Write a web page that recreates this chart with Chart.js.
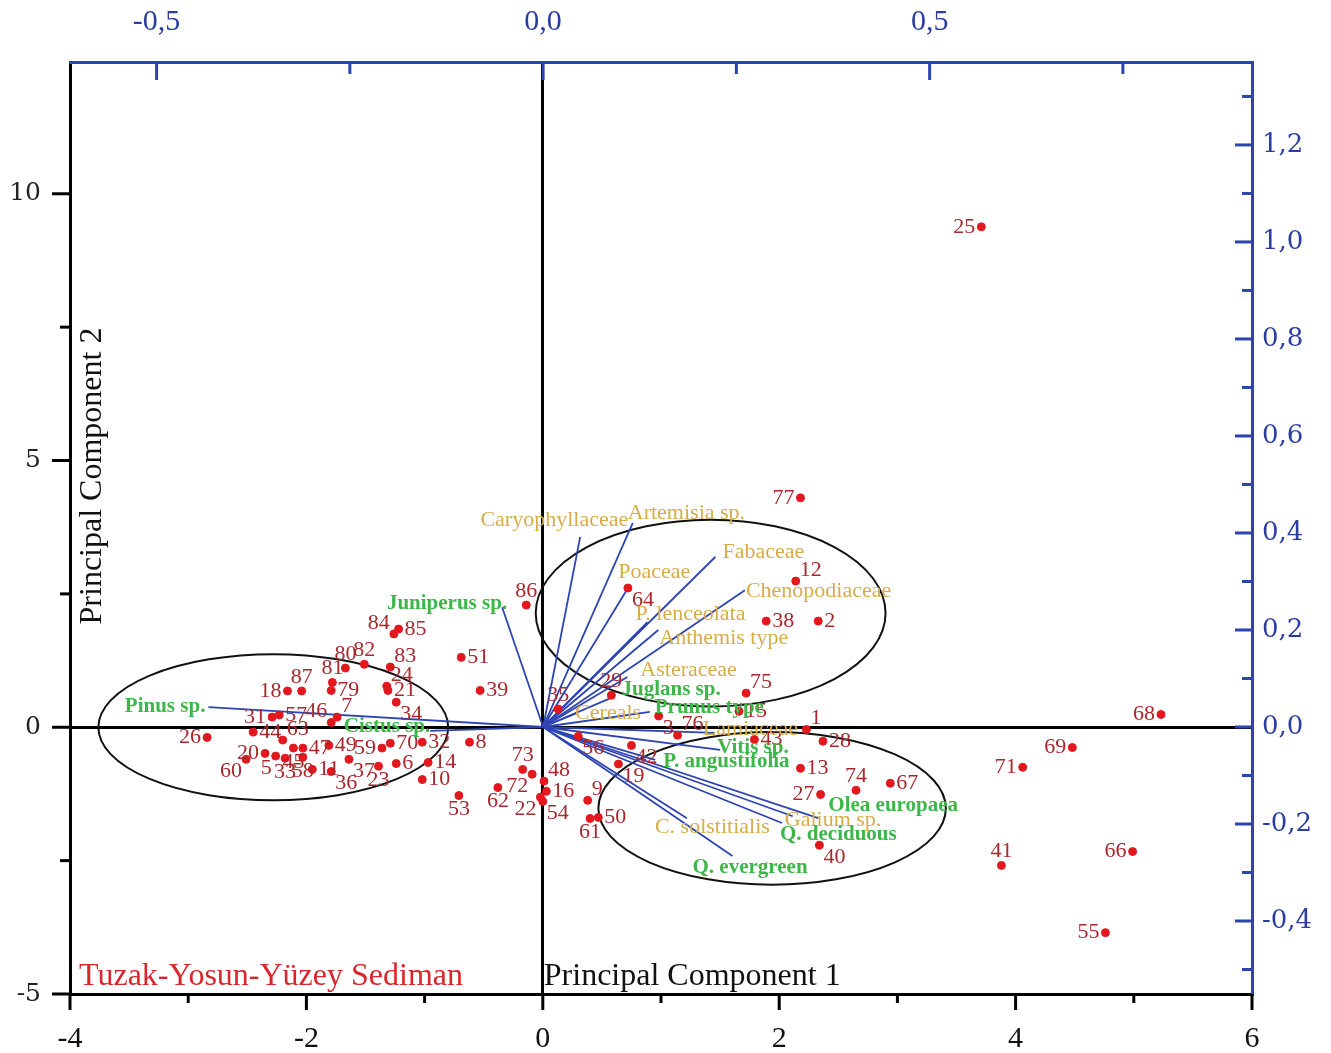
<!DOCTYPE html>
<html lang="tr">
<head>
<meta charset="UTF-8">
<title>PCA - Tuzak-Yosun-Yüzey Sediman</title>
<script src="https://cdn.jsdelivr.net/npm/chart.js@4.4.1/dist/chart.umd.min.js"></script>
<style>
  html, body { margin: 0; padding: 0; background: #fff; }
  #wrap { width: 1331px; height: 1053px; }
</style>
</head>
<body>
<div id="wrap"><canvas id="pca" width="1331" height="1053"></canvas></div>
<script>
// sample scores
const sampleIds = [1, 2, 3, 5, 6, 7, 8, 9, 10, 11, 12, 13, 14, 15, 16, 18, 19, 20, 21, 22,
  23, 24, 25, 26, 27, 28, 29, 31, 32, 33, 34, 35, 36, 37, 38, 39, 40, 41, 42, 43,
  44, 45, 46, 47, 48, 49, 50, 51, 53, 54, 55, 56, 57, 58, 59, 60, 61, 62, 63, 64,
  66, 67, 68, 69, 70, 71, 72, 73, 74, 75, 76, 77, 79, 80, 81, 82, 83, 84, 85, 86, 87];
const pc1 = [2.23, 2.33, 0.98, -2.26, -1.24, -1.74, -0.62, 0.38, -1.02, -1.95, 2.14, 2.18, -0.97, 1.66, 0.03, -2.16, 0.64, -2.35, -1.31, -0.02,
  -1.39, -1.32, 3.71, -2.84, 2.35, 2.37, 0.58, -2.29, -1.02, -2.18, -1.24, 0.13, -1.79, -1.64, 1.89, -0.53, 2.34, 3.88, 0.75, 1.79,
  -2.45, -2.11, -1.79, -2.03, 0.01, -1.81, 0.47, -0.69, -0.71, 0.00, 4.76, 0.30, -2.23, -2.03, -1.36, -2.51, 0.40, -0.38, -2.20, 0.72,
  4.99, 2.94, 5.23, 4.48, -1.29, 4.06, -0.09, -0.17, 2.65, 1.72, 1.14, 2.18, -1.79, -1.67, -1.78, -1.51, -1.29, -1.26, -1.22, -0.14, -2.04];
const pc2 = [-0.04, 1.99, 0.21, -0.54, -0.68, 0.19, -0.28, -1.37, -0.98, -0.79, 2.74, -0.77, -0.66, 0.30, -1.20, 0.68, -0.69, -0.49, 0.69, -1.31,
  -0.73, 0.77, 9.38, -0.19, -1.26, -0.26, 0.60, 0.19, -0.28, -0.58, 0.47, 0.34, -0.83, -0.60, 1.99, 0.69, -2.21, -2.59, -0.34, -0.23,
  -0.09, -0.39, 0.09, -0.39, -1.01, -0.34, -1.69, 1.31, -1.28, -1.39, -3.85, -0.17, 0.23, -0.56, -0.39, -0.60, -1.71, -1.13, -0.24, 2.61,
  -2.33, -1.05, 0.24, -0.38, -0.30, -0.75, -0.88, -0.79, -1.18, 0.64, -0.15, 4.30, 0.69, 1.11, 0.84, 1.18, 1.13, 1.75, 1.84, 2.29, 0.68];

// taxa loadings (top and right axes)
const taxa = ['Caryophyllaceae', 'Artemisia sp.', 'Poaceae', 'Fabaceae', 'Chenopodiaceae', 'P. lenceolata',
  'Anthemis type', 'Asteraceae', 'Cereals', 'Lamiaceae', 'C. solstitialis', 'Galium sp.',
  'Juglans sp.', 'Prunus type', 'Vitis sp.', 'P. angustifolia', 'Olea europaea', 'Q. deciduous',
  'Q. evergreen', 'Juniperus sp.', 'Pinus sp.', 'Cistus sp.'];
const loadX = [0.048, 0.116, 0.110, 0.223, 0.261, 0.135, 0.149, 0.109, 0.044, 0.222, 0.186, 0.323,
  0.091, 0.138, 0.229, 0.145, 0.356, 0.309, 0.245, -0.053, -0.433, -0.146];
const loadY = [0.392, 0.421, 0.287, 0.351, 0.282, 0.216, 0.200, 0.103, 0.029, -0.012, -0.188, -0.184,
  0.062, 0.031, -0.047, -0.068, -0.188, -0.198, -0.266, 0.247, 0.041, -0.008];
const taxaGroup = ['herb', 'herb', 'herb', 'herb', 'herb', 'herb', 'herb', 'herb', 'herb', 'herb', 'herb', 'herb',
  'tree', 'tree', 'tree', 'tree', 'tree', 'tree', 'tree', 'tree', 'tree', 'tree'];

// sample groups (ellipses), in score units
const groupCx = [-2.28, 1.42, 1.94];
const groupCy = [0.00, 2.14, -1.52];
const groupRx = [1.48, 1.48, 1.47];
const groupRy = [1.37, 1.75, 1.43];

// tick labels
const xLabels = [-4, -2, 0, 2, 4, 6];
const yLabels = [-5, 0, 5, 10];
const x2Labels = [-0.5, 0, 0.5];
const y2Labels = [-0.4, -0.2, 0, 0.2, 0.4, 0.6, 0.8, 1.0, 1.2];

const BLUE = '#2a44b0';
const has = (arr, v) => arr.some(a => Math.abs(a - v) < 1e-6);
const comma = v => (Math.round(v * 10) / 10).toFixed(1).replace('.', ',');

// where the number sits around its dot (default right)
const numAnchor = {1:'tr',3:'br',5:'bl',7:'tr',9:'tr',12:'tr',18:'l',19:'br',20:'l',22:'bl',23:'b',24:'tr',
  25:'l',26:'l',27:'l',29:'t',31:'l',33:'b',34:'br',35:'t',36:'br',37:'br',40:'br',41:'t',42:'br',45:'b',
  46:'tl',48:'tr',53:'b',54:'br',55:'l',56:'br',58:'b',59:'l',60:'bl',61:'b',62:'b',63:'tr',64:'br',66:'l',
  68:'l',69:'l',71:'l',72:'bl',73:'t',74:'t',75:'tr',76:'tr',77:'l',80:'t',81:'t',82:'t',83:'tr',84:'tl',
  86:'t',87:'t'};
const anchorOff = {
  r: [6, 0, 'left'], l: [-6, 0, 'right'], t: [0, -14, 'center'], b: [0, 14, 'center'],
  tr: [4, -11, 'left'], tl: [-4, -11, 'right'], br: [4, 12, 'left'], bl: [-4, 12, 'right']
};
// taxon text placement relative to the arrow tip
const taxaLabelPos = {
  'Caryophyllaceae': [48, -17, 'right'], 'Artemisia sp.': [-5, -10, 'left'], 'Poaceae': [-10, -16, 'left'],
  'Fabaceae': [7, -5, 'left'], 'Chenopodiaceae': [1, 1, 'left'], 'P. lenceolata': [-12, -8, 'left'],
  'Anthemis type': [1, 8, 'left'], 'Asteraceae': [13, -7, 'left'], 'Cereals': [-2, 0, 'left'],
  'Lamiaceae': [-12, -4, 'left'], 'C. solstitialis': [-32, 9, 'left'], 'Galium sp.': [-8, 4, 'left'],
  'Juglans sp.': [8, -7, 'left'], 'Prunus type': [5, -4, 'left'], 'Vitis sp.': [-3, -2, 'left'],
  'P. angustifolia': [8, 2, 'left'], 'Olea europaea': [10, -13, 'left'], 'Q. deciduous': [-2, 12, 'left'],
  'Q. evergreen': [-40, 12, 'left'], 'Juniperus sp.': [5, -4, 'right'], 'Pinus sp.': [-3, -1, 'right'],
  'Cistus sp.': [0, -4, 'right']
};

const points = sampleIds.map((id, i) => ({ x: pc1[i], y: pc2[i] }));
const vectorSets = taxa.map((t, i) => ({
  label: t,
  data: [{ x: 0, y: 0 }, { x: loadX[i], y: loadY[i] }],
  xAxisID: 'x2', yAxisID: 'y2',
  showLine: true, borderColor: '#2f44b3', borderWidth: 1.8,
  pointRadius: 0, order: 2
}));

const ellipses = {
  id: 'ellipses',
  beforeDatasetsDraw(chart) {
    const { ctx, scales: { x, y } } = chart;
    ctx.save();
    ctx.strokeStyle = '#111';
    ctx.lineWidth = 2;
    groupCx.forEach((cx, i) => {
      const px = x.getPixelForValue(cx), py = y.getPixelForValue(groupCy[i]);
      const rx = Math.abs(x.getPixelForValue(cx + groupRx[i]) - px);
      const ry = Math.abs(y.getPixelForValue(groupCy[i] + groupRy[i]) - py);
      ctx.beginPath();
      ctx.ellipse(px, py, rx, ry, 0, 0, Math.PI * 2);
      ctx.stroke();
    });
    ctx.restore();
  }
};

const axisTicks = {
  id: 'axisTicks',
  afterDraw(chart) {
    const { ctx, chartArea: a, scales } = chart;
    const spec = [
      { s: scales.x, major: v => has(xLabels, v), big: 16, small: 9, col: '#000', side: 'bottom' },
      { s: scales.y, major: v => Math.abs(v % 5) < 1e-6, big: 18, small: 10, col: '#000', side: 'left' },
      { s: scales.x2, major: v => has(x2Labels, v), big: 18, small: 12, col: BLUE, side: 'top' },
      { s: scales.y2, major: v => Math.abs(Math.round(v * 10) % 2) === 0, big: 17, small: 10, col: BLUE, side: 'right' }
    ];
    ctx.save();
    ctx.lineWidth = 3;
    spec.forEach(o => {
      ctx.strokeStyle = o.col;
      o.s.ticks.forEach(t => {
        const len = o.major(t.value) ? o.big : o.small;
        const p = o.s.getPixelForValue(t.value);
        ctx.beginPath();
        if (o.side === 'bottom') { ctx.moveTo(p, a.bottom); ctx.lineTo(p, a.bottom + len); }
        if (o.side === 'left') { ctx.moveTo(a.left, p); ctx.lineTo(a.left - len, p); }
        if (o.side === 'top') { ctx.moveTo(p, a.top); ctx.lineTo(p, a.top + len); }
        if (o.side === 'right') { ctx.moveTo(a.right, p); ctx.lineTo(a.right - len, p); }
        ctx.stroke();
      });
    });
    ctx.restore();
  }
};

const textLayer = {
  id: 'textLayer',
  afterDatasetsDraw(chart) {
    const { ctx, chartArea: a, scales: { x, y, x2, y2 } } = chart;
    ctx.save();
    // sample numbers
    ctx.font = '22px "Liberation Serif"';
    ctx.fillStyle = '#a8282e';
    ctx.textBaseline = 'middle';
    sampleIds.forEach((id, i) => {
      const o = anchorOff[numAnchor[id] || 'r'];
      ctx.textAlign = o[2];
      ctx.fillText(String(id), x.getPixelForValue(pc1[i]) + o[0], y.getPixelForValue(pc2[i]) + o[1]);
    });
    // taxa names
    taxa.forEach((t, i) => {
      const tree = taxaGroup[i] === 'tree';
      const p = taxaLabelPos[t];
      ctx.font = (tree ? 'bold 21px' : '22px') + ' "Liberation Serif"';
      ctx.fillStyle = tree ? '#3db64a' : '#d6ad47';
      ctx.textAlign = p[2];
      ctx.fillText(t, x2.getPixelForValue(loadX[i]) + p[0], y2.getPixelForValue(loadY[i]) + p[1]);
    });
    // titles inside the frame
    ctx.textBaseline = 'alphabetic';
    ctx.textAlign = 'left';
    ctx.font = '32px "Liberation Serif"';
    ctx.fillStyle = '#111';
    ctx.fillText('Principal Component 1', x.getPixelForValue(0) + 1, a.bottom - 9);
    ctx.fillStyle = '#d8262c';
    ctx.fillText('Tuzak-Yosun-Yüzey Sediman', a.left + 9, a.bottom - 9);
    ctx.fillStyle = '#111';
    ctx.translate(a.left + 23, a.top + 414);
    ctx.rotate(-Math.PI / 2);
    ctx.textAlign = 'center';
    ctx.textBaseline = 'middle';
    ctx.fillText('Principal Component 2', 0, 0);
    ctx.restore();
  }
};

const zeroLine = c => (c.tick && Math.abs(c.tick.value) < 1e-9) ? '#000' : 'rgba(0,0,0,0)';

new Chart(document.getElementById('pca'), {
  type: 'scatter',
  data: {
    datasets: [
      {
        label: 'Samples',
        data: points,
        xAxisID: 'x', yAxisID: 'y',
        backgroundColor: '#e3171e', borderColor: '#e3171e',
        pointRadius: 4, pointHoverRadius: 4, order: 1
      },
      ...vectorSets
    ]
  },
  options: {
    responsive: false,
    animation: false,
    layout: { padding: 0 },
    plugins: { legend: { display: false }, tooltip: { enabled: false } },
    scales: {
      x: {
        type: 'linear', position: 'bottom', min: -4, max: 6,
        grid: { display: true, drawTicks: false, color: zeroLine, lineWidth: 3 },
        border: { display: true, color: '#000', width: 3 },
        ticks: {
          stepSize: 1, autoSkip: false, includeBounds: false, padding: 27, color: '#111',
          font: { family: 'Liberation Serif', size: 30 },
          callback: v => has(xLabels, v) ? String(v) : ''
        },
        afterFit: s => { s.height = 59; }
      },
      y: {
        type: 'linear', position: 'left', min: -5, max: 12.47,
        grid: { display: true, drawTicks: false, color: zeroLine, lineWidth: 3 },
        border: { display: true, color: '#000', width: 3 },
        ticks: {
          stepSize: 2.5, autoSkip: false, includeBounds: false, padding: 29, color: '#222',
          font: { family: 'DejaVu Serif', size: 25 },
          callback: v => has(yLabels, v) ? String(v) : ''
        },
        afterFit: s => { s.width = 70; }
      },
      x2: {
        type: 'linear', position: 'top', min: -0.612, max: 0.917,
        grid: { display: false, drawTicks: false },
        border: { display: true, color: BLUE, width: 3 },
        ticks: {
          stepSize: 0.25, autoSkip: false, includeBounds: false, padding: 22, color: '#2a3da3',
          font: { family: 'Liberation Serif', size: 30 },
          callback: v => has(x2Labels, v) ? comma(v) : ''
        },
        afterFit: s => { s.height = 62; }
      },
      y2: {
        type: 'linear', position: 'right', min: -0.5505, max: 1.371,
        grid: { display: false, drawTicks: false },
        border: { display: true, color: BLUE, width: 3 },
        ticks: {
          stepSize: 0.1, autoSkip: false, includeBounds: false, padding: 10, color: '#2a3da3',
          font: { family: 'DejaVu Serif', size: 26 },
          callback: v => has(y2Labels, v) ? comma(v) : ''
        },
        afterFit: s => { s.width = 79; }
      }
    }
  },
  plugins: [ellipses, axisTicks, textLayer]
});
</script>
</body>
</html>
